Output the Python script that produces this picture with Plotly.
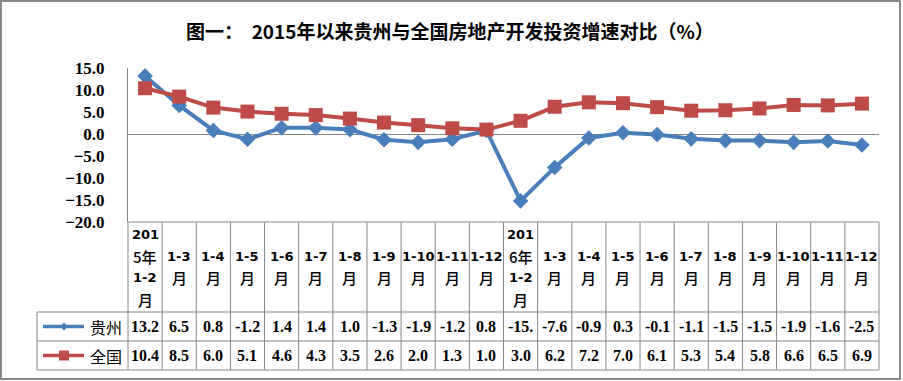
import plotly.graph_objects as go

# ---------------- data ----------------
periods = [
    "2015年1-2月", "2015年1-3月", "2015年1-4月", "2015年1-5月", "2015年1-6月", "2015年1-7月",
    "2015年1-8月", "2015年1-9月", "2015年1-10月", "2015年1-11月", "2015年1-12月",
    "2016年1-2月", "2016年1-3月", "2016年1-4月", "2016年1-5月", "2016年1-6月", "2016年1-7月",
    "2016年1-8月", "2016年1-9月", "2016年1-10月", "2016年1-11月", "2016年1-12月",
]
header_labels = [
    "201<br>5年<br>1-2<br>月", "1-3<br>月", "1-4<br>月", "1-5<br>月", "1-6<br>月", "1-7<br>月",
    "1-8<br>月", "1-9<br>月", "1-10<br>月", "1-11<br>月", "1-12<br>月",
    "201<br>6年<br>1-2<br>月", "1-3<br>月", "1-4<br>月", "1-5<br>月", "1-6<br>月", "1-7<br>月",
    "1-8<br>月", "1-9<br>月", "1-10<br>月", "1-11<br>月", "1-12<br>月",
]
guizhou = [13.2, 6.5, 0.8, -1.2, 1.4, 1.4, 1.0, -1.3, -1.9, -1.2, 0.8,
           -15.2, -7.6, -0.9, 0.3, -0.1, -1.1, -1.5, -1.5, -1.9, -1.6, -2.5]
national = [10.4, 8.5, 6.0, 5.1, 4.6, 4.3, 3.5, 2.6, 2.0, 1.3, 1.0,
            3.0, 6.2, 7.2, 7.0, 6.1, 5.3, 5.4, 5.8, 6.6, 6.5, 6.9]
series_names = ["贵州", "全国"]
title_text = "图一：  2015年以来贵州与全国房地产开发投资增速对比（%）"

# ---------------- style / layout ----------------
W, H = 903, 381
ML, MR, MT, MB = 128, 24, 68, 159
PW, PH = W - ML - MR, H - MT - MB
BLUE = "#4A7EBB"
RED = "#BE4B48"
GRID = "#868686"
CJK = "Noto Sans CJK SC"


def px2x(px):
    return (px - ML) / PW


def px2y(py):
    return (MT + PH - py) / PH


fig = go.Figure()
fig.add_trace(go.Scatter(
    x=periods, y=guizhou, name=series_names[0], mode="lines+markers",
    line=dict(color=BLUE, width=4),
    marker=dict(symbol="diamond", size=12, color=BLUE),
    showlegend=False,
))
fig.add_trace(go.Scatter(
    x=periods, y=national, name=series_names[1], mode="lines+markers",
    line=dict(color=RED, width=4),
    marker=dict(symbol="square", size=14, color=RED),
    showlegend=False,
))

n = len(periods)
shapes = []
ann = []

# outer border
shapes.append(dict(type="rect", xref="paper", yref="paper",
                   x0=px2x(1), x1=px2x(900), y0=px2y(379), y1=px2y(1),
                   line=dict(color="#898989", width=2), fillcolor="rgba(0,0,0,0)", layer="below"))

# table geometry (pixel rows)
row_top, row1, row2, row_bot = MT + PH, 312, 341, 370
leg_left = 37
tl = dict(color=GRID, width=1)
shapes.append(dict(type="line", xref="paper", yref="paper", x0=0, x1=1,
                   y0=px2y(row_top), y1=px2y(row_top), line=tl))
for yy in (row1, row2, row_bot):
    shapes.append(dict(type="line", xref="paper", yref="paper", x0=px2x(leg_left), x1=1,
                       y0=px2y(yy), y1=px2y(yy), line=tl))
shapes.append(dict(type="line", xref="paper", yref="paper", x0=px2x(leg_left), x1=px2x(leg_left),
                   y0=px2y(row1), y1=px2y(row_bot), line=tl))
for i in range(n + 1):
    xv = i / n
    shapes.append(dict(type="line", xref="paper", yref="paper", x0=xv, x1=xv,
                       y0=px2y(row_top), y1=px2y(row_bot), line=tl))

# header labels
hdr_center = (row_top + row1) / 2
line_gap = 21.8
for i, lab in enumerate(header_labels):
    parts = lab.split("<br>")
    k = len(parts)
    for j, p in enumerate(parts):
        cy = hdr_center + (j - (k - 1) / 2) * line_gap
        is_cjk = any(ord(c) > 255 for c in p)
        ann.append(dict(x=periods[i], xref="x", y=px2y(cy), yref="paper", text=p, showarrow=False,
                        xanchor="center", yanchor="middle",
                        font=dict(family=CJK if is_cjk else "DejaVu Sans", size=15 if is_cjk else 13,
                                  color="#000000", weight=500 if is_cjk else "bold")))

# value rows
for vals, rowc in ((guizhou, (row1 + row2) / 2), (national, (row2 + row_bot) / 2)):
    for i, v in enumerate(vals):
        ann.append(dict(x=periods[i], xref="x", y=px2y(rowc), yref="paper",
                        text=f"{v:.1f}"[:4], showarrow=False, xanchor="center", yanchor="middle",
                        font=dict(family="Liberation Serif", size=16, color="#000000", weight="bold")))

# legend keys inside the table
for name, col, rowc, sym in ((series_names[0], BLUE, (row1 + row2) / 2, "diamond"),
                             (series_names[1], RED, (row2 + row_bot) / 2, "square")):
    shapes.append(dict(type="line", xref="paper", yref="paper", x0=px2x(43), x1=px2x(84),
                       y0=px2y(rowc), y1=px2y(rowc), line=dict(color=col, width=3.5)))
    cx = 64
    if sym == "diamond":
        r = 4
        path = (f"M {px2x(cx - r)} {px2y(rowc)} L {px2x(cx)} {px2y(rowc - r)} "
                f"L {px2x(cx + r)} {px2y(rowc)} L {px2x(cx)} {px2y(rowc + r)} Z")
        shapes.append(dict(type="path", xref="paper", yref="paper", path=path,
                           fillcolor=col, line=dict(color=col, width=0)))
    else:
        r = 5
        shapes.append(dict(type="rect", xref="paper", yref="paper",
                           x0=px2x(cx - r), x1=px2x(cx + r), y0=px2y(rowc + r), y1=px2y(rowc - r),
                           fillcolor=col, line=dict(color=col, width=0)))
    ann.append(dict(x=px2x(88), xref="paper", y=px2y(rowc), yref="paper", text=name,
                    showarrow=False, xanchor="left", yanchor="middle",
                    font=dict(family=CJK, size=16, color="#000000")))

# title
ann.append(dict(x=px2x(450), xref="paper", y=px2y(30), yref="paper", text=title_text,
                showarrow=False, xanchor="center", yanchor="middle",
                font=dict(family=CJK, size=19, color="#000000", weight="bold")))

fig.update_layout(
    width=W, height=H,
    margin=dict(l=ML, r=MR, t=MT, b=MB, pad=0),
    paper_bgcolor="white", plot_bgcolor="white",
    shapes=shapes, annotations=ann,
    xaxis=dict(type="category", range=[-0.5, n - 0.5], showticklabels=False, showgrid=False,
               zeroline=False, showline=False, ticks=""),
    yaxis=dict(range=[-20, 15], dtick=5, tick0=0, tickformat=".1f", showgrid=False,
               zeroline=True, zerolinecolor=GRID, zerolinewidth=1,
               showline=True, linecolor=GRID, linewidth=1, ticks="",
               ticklabelstandoff=19,
               tickfont=dict(family="Liberation Serif", size=17, color="#000000", weight="bold")),
)

fig.write_html("out.html", config={"displayModeBar": False},
               post_script="document.body.style.margin='0';document.body.style.overflow='hidden';")
